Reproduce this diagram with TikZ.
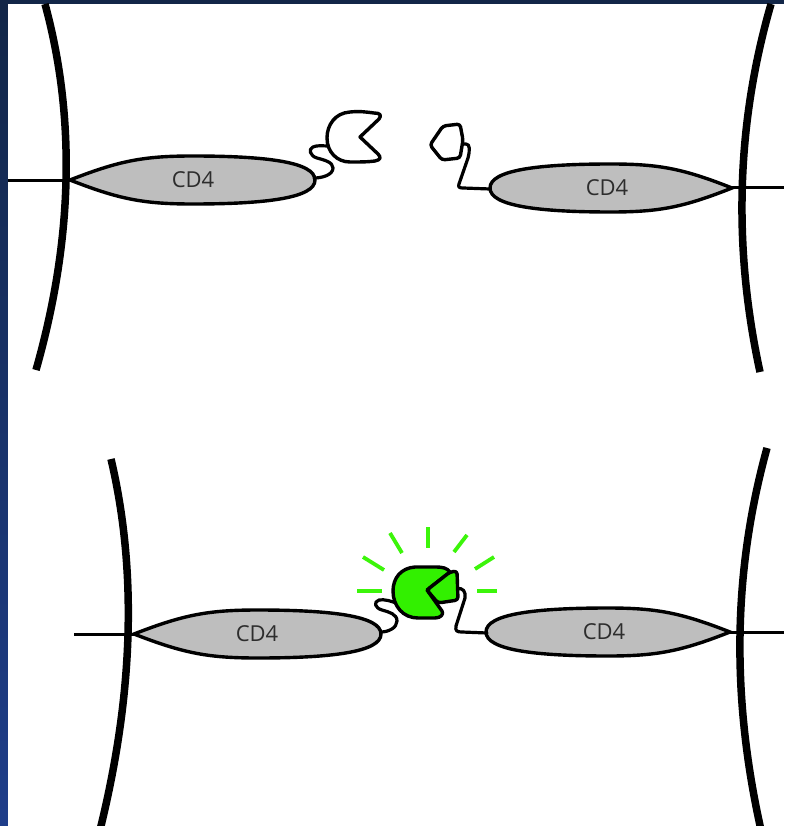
\documentclass[tikz,border=0pt]{standalone}
\usepackage{fontspec}
\setmainfont{Open Sans}
\definecolor{navy}{RGB}{18,38,72}
\definecolor{navylow}{RGB}{31,62,138}
\definecolor{lensgray}{RGB}{190,190,190}
\definecolor{labelgray}{RGB}{45,45,45}
\definecolor{glowgreen}{RGB}{60,245,10}
\definecolor{boundgreen}{RGB}{50,240,0}
\tikzset{
  pics/cdlens/.style 2 args={code={
    \path[lensbody] (0,0)
      .. controls ({0.2*#1},{0.8*#2}) and ({0.3*#1},{#2}) .. ({0.5*#1},{#2})
      .. controls ({0.8*#1},{#2}) and ({#1},{0.75*#2}) .. ({#1},0)
      .. controls ({#1},{-0.75*#2}) and ({0.8*#1},{-#2}) .. ({0.5*#1},{-#2})
      .. controls ({0.3*#1},{-#2}) and ({0.2*#1},{-0.8*#2}) .. (0,0) -- cycle;
  }}
}
\begin{document}
\begin{tikzpicture}[x=1pt,y=-1pt,
  membrane/.style={line width=7.5pt, line cap=butt},
  stalk/.style={line width=3pt},
  lensbody/.style={draw=black, line width=3.4pt, fill=lensgray},
  linker/.style={line width=3.2pt, line join=round, line cap=round},
  protein/.style={draw=black, line width=3.4pt, line join=round},
  glow/.style={draw=glowgreen, line width=3.8pt},
  cdlabel/.style={text=labelgray, font=\fontsize{22}{22}\selectfont, inner sep=0pt}
]
\useasboundingbox (0,0) rectangle (784,826);
% frame
\fill[navy] (0,0) rectangle (784,826);
\shade[top color=navy, bottom color=navylow] (0,4) rectangle (8,826);
\fill[white] (8,4) rectangle (784,826);

\begin{scope}
\clip (8,4) rectangle (784,826);

% ---------- upper panel: unbound ----------
\draw[membrane] (45,4) .. controls (76,118) and (73,240) .. (36,370);
\draw[membrane] (771,4) .. controls (736,125) and (733,248) .. (760,372);
\draw[stalk] (8,181) -- (72,181);
\draw[stalk] (730,188) -- (784,188);

\pic at (70,180) {cdlens={245}{24}};
\pic[xscale=-1] at (732,188) {cdlens={242}{24}};
\node[cdlabel] (cdA) at (193,180) {CD4};
\node[cdlabel] (cdB) at (607,188) {CD4};

% left linker and open domain
\draw[linker] (314,178) .. controls (322,178) and (333,175) .. (333,168)
  .. controls (333,162) and (324,160) .. (317,158)
  .. controls (310,156) and (308,149) .. (313,147)
  .. controls (317,145) and (323,146) .. (329,146);
\path[protein, fill=white] (360,137) -- (379,119)
  .. controls (382,115) and (380,113) .. (374,113)
  .. controls (366,112) and (360,111) .. (350,112)
  .. controls (335,113) and (327,125) .. (327,138)
  .. controls (327,152) and (337,162) .. (350,162)
  .. controls (360,162) and (368,162) .. (375,161)
  .. controls (381,160) and (381,157) .. (378,154) -- cycle;

% right linker and small domain
\draw[linker] (463,144) -- (466,144) .. controls (470,144) and (470,150) .. (468,158)
  -- (459,184) .. controls (458,187) and (459,188) .. (463,188) -- (490,189);
\path[protein, fill=white, rounded corners=3pt] (443,126) -- (460,124) -- (463,140)
  -- (460,158) -- (442,160) -- (430,145) -- cycle;

% ---------- lower panel: bound ----------
\draw[membrane] (111,459) .. controls (137,570) and (134,692) .. (100,830);
\draw[membrane] (767,448) .. controls (733,571) and (731,696) .. (761,830);
\draw[stalk] (74,634) -- (136,634);
\draw[stalk] (728,632) -- (784,632);

\pic at (134,634) {cdlens={247}{24}};
\pic[xscale=-1] at (730,632) {cdlens={244}{24}};
\node[cdlabel] (cdC) at (257,634) {CD4};
\node[cdlabel] (cdD) at (604,632) {CD4};

% glow rays
\draw[glow] (357,591) -- (382,591);
\draw[glow] (477,591) -- (497,591);
\draw[glow] (363,557) -- (384,570);
\draw[glow] (475,569) -- (494,557);
\draw[glow] (390,533) -- (402,553);
\draw[glow] (467,535) -- (454,552);
\draw[glow] (428,527) -- (428,548);

% linkers
\draw[linker] (381,632) .. controls (388,632) and (397,628) .. (397,621)
  .. controls (397,614) and (389,612) .. (382,610)
  .. controls (375,608) and (373,602) .. (379,600)
  .. controls (384,599) and (392,601) .. (398,604);
\draw[linker] (457,589) .. controls (463,587) and (466,592) .. (465,598)
  -- (456,626) .. controls (455,631) and (457,632) .. (462,632) -- (487,633);

% bound complex
\path[protein, fill=boundgreen] (427,590) -- (450,572)
  .. controls (447,568) and (443,567) .. (435,567) -- (415,567)
  .. controls (401,568) and (393,578) .. (393,591)
  .. controls (393,606) and (403,618) .. (418,618) -- (435,618)
  .. controls (441,618) and (444,614) .. (442,611) -- cycle;
\path[protein, fill=boundgreen, rounded corners=3pt] (427,590) -- (450,572) -- (457,571)
  -- (458,600) -- (438,603) -- cycle;
\end{scope}
\end{tikzpicture}
\end{document}
